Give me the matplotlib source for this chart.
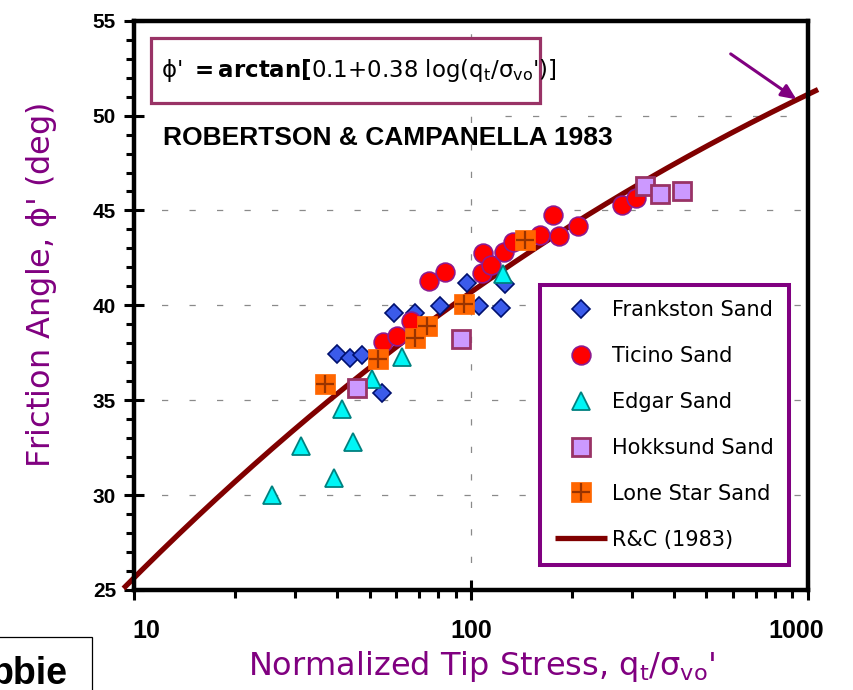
import numpy as np
import matplotlib
matplotlib.use("Agg")
import matplotlib.pyplot as plt
from matplotlib.patches import Rectangle
from matplotlib.legend_handler import HandlerTuple
from matplotlib.ticker import LogLocator, NullFormatter, FixedLocator, MultipleLocator
from matplotlib.transforms import ScaledTranslation

# ---- data: normalized tip stress qt/sigma'vo and friction angle (deg) ----
frankston_q = [40.0, 43.8, 47.5, 54.5, 59.2, 68.2, 81.1, 97.3, 105.8, 122.7, 126.2]
frankston_phi = [37.45, 37.25, 37.4, 35.4, 39.6, 39.6, 39.95, 41.2, 39.95, 39.85, 41.15]

ticino_q = [54.7, 60.4, 66.4, 74.9, 83.7, 107.5, 108.2, 114.5, 124.9, 132.9,
            160.4, 174.6, 182.8, 208.0, 279.8, 308.7]
ticino_phi = [38.05, 38.4, 39.2, 41.3, 41.75, 41.7, 42.75, 42.1, 42.8, 43.35,
              43.7, 44.75, 43.65, 44.2, 45.3, 45.65]

edgar_q = [25.6, 31.3, 39.1, 41.3, 44.8, 50.7, 62.4, 124.1]
edgar_phi = [30.0, 32.6, 30.9, 34.55, 32.8, 36.1, 37.3, 41.65]

hokksund_q = [45.9, 93.3, 328.0, 363.9, 423.0]
hokksund_phi = [35.65, 38.2, 46.3, 45.85, 46.05]

lonestar_q = [36.9, 52.8, 68.4, 74.0, 95.5, 144.5]
lonestar_phi = [35.85, 37.15, 38.3, 38.9, 40.05, 43.45]

# Robertson & Campanella (1983): phi' = arctan[a + b log(qt/sigma'vo)]
rc_a, rc_b = 0.1, 0.38
rc_qrange = (9.3, 1072.0)

x_ticks = [10, 100, 1000]
x_ticklabels = ["10", "100", "1000"]
y_ticks = [25, 30, 35, 40, 45, 50, 55]

labels = ["Frankston Sand", "Ticino Sand", "Edgar Sand", "Hokksund Sand",
          "Lone Star Sand", "R&C (1983)"]

purple = "#800080"
comic = "DejaVu Sans"
arial = "Liberation Sans"

plt.rcParams["mathtext.fontset"] = "custom"
plt.rcParams["mathtext.rm"] = comic
plt.rcParams["mathtext.it"] = comic
plt.rcParams["mathtext.bf"] = comic + ":bold"

fig = plt.figure(figsize=(8.54, 6.90), dpi=100)
ax = fig.add_axes([0.157, 0.145, 0.789, 0.825])
ax.set_xscale("log")
ax.set_xlim(10, 1000)
ax.set_ylim(25, 55)

# grid
grid_kw = dict(color="#8a8a8a", lw=0.9, ls=(0, (5, 17)), zorder=0.5)
for yv in [30, 35, 40, 45]:
    ax.axhline(yv, **grid_kw)
ax.axhline(50, xmin=0.55, xmax=1.0, **grid_kw)
ax.axvline(100, **grid_kw)

# fitted relation
q = np.logspace(np.log10(rc_qrange[0]), np.log10(rc_qrange[1]), 300)
phi = np.degrees(np.arctan(rc_a + rc_b * np.log10(q)))
h_rc, = ax.plot(q, phi, color="#800000", lw=3.8, clip_on=False, zorder=2,
                solid_capstyle="butt")

# data series
h_fr, = ax.plot(frankston_q, frankston_phi, ls="none", marker="D", ms=8.8,
                mfc="#3B5BEA", mec="#00106E", mew=1.2, zorder=3)
h_ti, = ax.plot(ticino_q, ticino_phi, ls="none", marker="o", ms=13.5,
                mfc="#FF0000", mec="#8E1A8E", mew=1.2, zorder=3)
h_ed, = ax.plot(edgar_q, edgar_phi, ls="none", marker="^", ms=13,
                mfc="#00F5F5", mec="#00807F", mew=1.3, zorder=3)
h_hk, = ax.plot(hokksund_q, hokksund_phi, ls="none", marker="s", ms=12.5,
                mfc="#CC99FF", mec="#993366", mew=2.0, zorder=3)
h_ls1, = ax.plot(lonestar_q, lonestar_phi, ls="none", marker="s", ms=14,
                 mfc="#FF6600", mec="#FF6600", mew=0.5, zorder=3)
h_ls2, = ax.plot(lonestar_q, lonestar_phi, ls="none", marker="+", ms=13.5,
                 mec="#993300", mew=1.6, zorder=3.1)

# axes styling
for s in ax.spines.values():
    s.set_linewidth(3.2)
    s.set_color("black")
ax.xaxis.set_major_locator(FixedLocator(x_ticks))
ax.set_xticklabels(x_ticklabels)
ax.xaxis.set_minor_locator(LogLocator(base=10, subs=np.arange(2, 10)))
ax.xaxis.set_minor_formatter(NullFormatter())
ax.yaxis.set_major_locator(FixedLocator(y_ticks))
ax.yaxis.set_minor_locator(MultipleLocator(1))
ax.tick_params(which="major", direction="inout", length=14, width=2.2,
               top=False, right=False)
ax.tick_params(which="minor", direction="out", length=6, width=2.2,
               top=False, right=False)
ax.tick_params(axis="x", which="major", pad=14)
ax.tick_params(axis="y", which="major", pad=6)
for lab in ax.get_yticklabels():
    lab.set_fontfamily(arial)
    lab.set_fontweight("bold")
    lab.set_fontsize(15)
x_shift = [0.12, 0.0, -0.12]
for lab, dx in zip(ax.get_xticklabels(), x_shift):
    lab.set_fontfamily(arial)
    lab.set_fontweight("bold")
    lab.set_fontsize(18)
    lab.set_transform(lab.get_transform() + ScaledTranslation(dx, 0, fig.dpi_scale_trans))

ax.set_xlabel(r"Normalized Tip Stress, q$_\mathrm{t}$/$\sigma_\mathrm{vo}$'",
              fontsize=23, color=purple, fontfamily=comic)
ax.xaxis.set_label_coords(0.516, -0.103)
ax.set_ylabel(r"Friction Angle, $\phi$' (deg)", fontsize=23, color=purple,
              fontfamily=comic)
ax.yaxis.set_label_coords(-0.111, 0.536)

# equation box
ax.add_patch(Rectangle((0.025, 0.855), 0.577, 0.115, transform=ax.transAxes,
                       facecolor="white", edgecolor="#993366", lw=2.3, zorder=4))
ax.text(0.04, 0.912,
        r"$\phi$' $\mathbf{=arctan[}$0.1+0.38 log(q$_\mathrm{t}$/$\sigma_\mathrm{vo}$')]",
        transform=ax.transAxes, fontsize=16.5, fontfamily=comic, va="center",
        ha="left", zorder=5)

ax.text(0.043, 0.794, "ROBERTSON & CAMPANELLA 1983", transform=ax.transAxes,
        fontsize=19, fontweight="bold", fontfamily=arial, va="center",
        ha="left", zorder=5)

# arrow pointing at the curve
ax.annotate("", xy=(925, 50.85), xytext=(590, 53.25),
            arrowprops=dict(arrowstyle="-|>,head_length=0.9,head_width=0.4",
                            color=purple, lw=2.2, shrinkA=0, shrinkB=0),
            annotation_clip=False, zorder=6)

# legend
leg = ax.legend([h_fr, h_ti, h_ed, h_hk, (h_ls1, h_ls2), h_rc], labels,
                handler_map={tuple: HandlerTuple(ndivide=1, pad=0)},
                loc="upper left", bbox_to_anchor=(0.602, 0.536),
                borderaxespad=0, fancybox=False, framealpha=1,
                edgecolor=purple, prop={"family": comic, "size": 15},
                borderpad=0.75, labelspacing=1.24, handlelength=2.5,
                handletextpad=0.2, numpoints=1)
leg.get_frame().set_linewidth(2.9)
leg.set_zorder(7)

# cropped caption box in lower-left corner
fig.patches.append(Rectangle((-0.01, -0.01), 0.118, 0.0868, transform=fig.transFigure,
                             facecolor="white", edgecolor="black", lw=0.9))
fig.text(0.079, 0.008, "bbie", fontsize=27, fontweight="bold", fontfamily=arial,
         ha="right", va="baseline")

fig.savefig("out.png", dpi=100)
